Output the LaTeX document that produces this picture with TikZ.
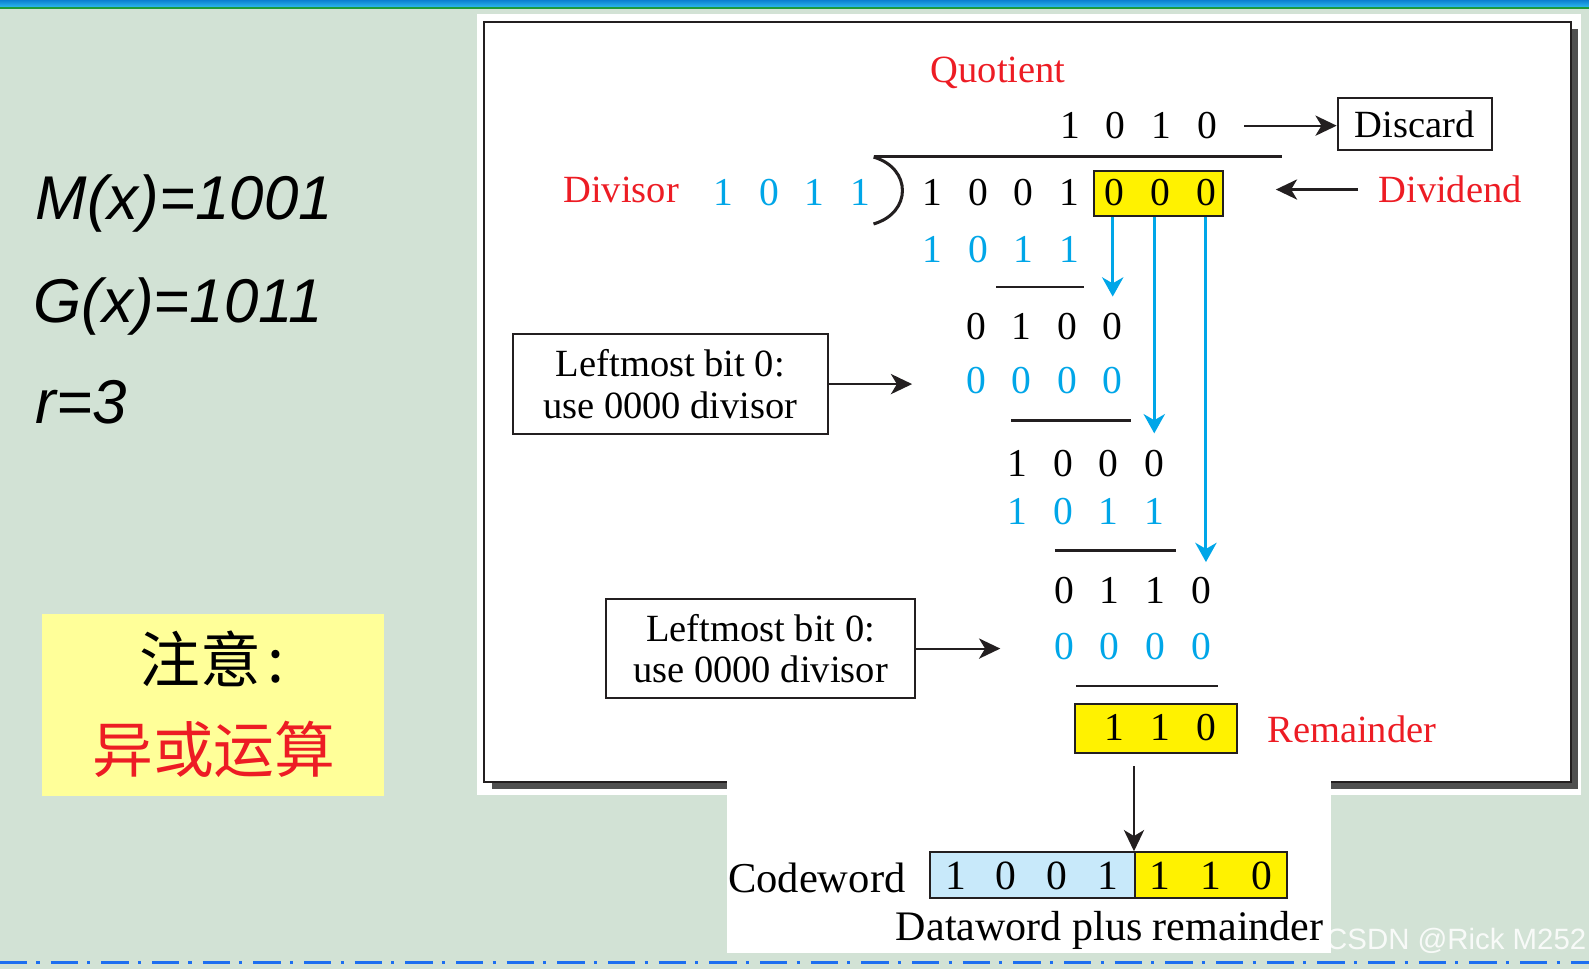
\documentclass[tikz,border=0pt]{standalone}
\usepackage{fontspec}
\setmainfont{Liberation Serif}
\newfontfamily\cjkfont{Noto Sans CJK SC}
\newfontfamily\handfont{Liberation Sans}
\usetikzlibrary{arrows.meta}

\begin{document}
\begin{tikzpicture}[x=1pt,y=-1pt,every node/.style={font=\fontsize{38}{41}\selectfont,align=center,inner sep=0},>={Stealth[length=21pt,width=20pt,inset=6pt]},
  bitnode/.style={font=\fontsize{39}{40}\selectfont},
  bluebit/.style={bitnode,text=cyanbit},
  redtag/.style={text=tagred,anchor=base},
  framebox/.style={draw=boxline,line width=2pt},
  rulebar/.style={draw=boxline,line width=2.5pt},
  blackarrow/.style={->,draw=boxline,line width=2pt},
  bluearrow/.style={-{Stealth[length=19pt,width=21pt,inset=6pt]},draw=cyanbit,line width=3pt}]
\path[use as bounding box] (0,0) rectangle (1568,956);
\definecolor{bg}{HTML}{D2E2D5}
\definecolor{cyanbit}{HTML}{00A6E8}
\definecolor{tagred}{HTML}{ED1C24}
\definecolor{padyellow}{HTML}{FFF200}
\definecolor{cwblue}{HTML}{C8E9FA}
\definecolor{notefill}{HTML}{FFFF99}
\definecolor{boxline}{HTML}{231F20}
\definecolor{shadowgray}{HTML}{505050}
\definecolor{dashblue}{HTML}{1D6FF0}
\definecolor{bartop}{HTML}{0A7FD0}
\definecolor{barbottom}{HTML}{2CB8EE}
\definecolor{barline}{HTML}{1E9A3C}
% slide background
\fill[bg] (0,0) rectangle (1568,956);
\shade[top color=bartop,bottom color=barbottom] (0,0) rectangle (1568,7);
\fill[barline] (0,7) rectangle (1568,8.5);
\draw[dashblue,line width=3pt,dash pattern=on 27pt off 9pt on 3pt off 11pt] (0,950) -- (1568,950);
% white panel and framed figure
\fill[white] (471,14) rectangle (1560,784);
\fill[shadowgray] (485,29) rectangle (1557,779);
\draw[framebox,fill=white] (478,22) rectangle (1550,772);
\fill[white] (717,770) rectangle (1313,940);
% left column
\node[anchor=base west,font=\handfont\itshape\fontsize{61}{64}\selectfont] (mx) at (35,217) {M(x)=1001};
\node[anchor=base west,font=\handfont\itshape\fontsize{61}{64}\selectfont] (gx) at (33,318) {G(x)=1011};
\node[anchor=base west,font=\handfont\itshape\fontsize{61}{64}\selectfont] (rr) at (35,418) {r=3};
\node[fill=notefill,minimum width=338pt,minimum height=179pt] (warn) at (210,695.5) {};
\node[font=\cjkfont\fontsize{60}{60}\selectfont] (zy) at (209,650) {注意\hspace{6pt}:};
\node[font=\cjkfont\fontsize{60}{60}\selectfont,text=tagred] (xor) at (211,739) {异或运算};
% quotient
\node[redtag] (quot) at (985,81) {Quotient};
\foreach \d [count=\i] in {1,0,1,0} \node[bitnode] (q\i) at (1011+45*\i,124) {\d};
\node[framebox,minimum width=152pt,minimum height=51pt] (discard) at (1396,122.5) {Discard};
\draw[blackarrow,shorten <=27pt] (q4.east) -- (q4.east -| discard.west);
% divisor and dividend
\draw[line width=3pt,draw=boxline] (862,154) -- (1265,154);
\draw[line width=3pt,draw=boxline] (862,155) .. controls (900,166) and (900,210) .. (862,221);
\node[redtag] (divisor) at (613,200) {Divisor};
\foreach \d [count=\i] in {1,0,1,1} \node[bluebit] (dv\i) at (669+45*\i,190) {\d};
\node[framebox,fill=padyellow,minimum width=127pt,minimum height=44pt] (pad) at (1143.5,191) {};
\foreach \d [count=\i] in {1,0,0,1,0,0,0} \node[bitnode] (dd\i) at (875+45*\i,190) {\d};
\node[redtag] (dividend) at (1431,200) {Dividend};
\draw[blackarrow,shorten <=20pt,shorten >=51pt] (dividend.west) -- (dividend.west -| pad.east);
% XOR steps
\foreach \d [count=\i] in {1,0,1,1} \node[bluebit] (sa\i) at (875+45*\i,246) {\d};
\draw[rulebar] (983,283) -- (1070,283);
\foreach \d [count=\i] in {0,1,0,0} \node[bitnode] (ra\i) at (918+45*\i,322) {\d};
\foreach \d [count=\i] in {0,0,0,0} \node[bluebit] (sb\i) at (918+45*\i,376) {\d};
\draw[rulebar] (998,415) -- (1116,415);
\foreach \d [count=\i] in {1,0,0,0} \node[bitnode] (rb\i) at (959+45*\i,457) {\d};
\foreach \d [count=\i] in {1,0,1,1} \node[bluebit] (sc\i) at (959+45*\i,505) {\d};
\draw[rulebar] (1041,543) -- (1160,543);
\foreach \d [count=\i] in {0,1,1,0} \node[bitnode] (rc\i) at (1005+45*\i,583) {\d};
\foreach \d [count=\i] in {0,0,0,0} \node[bluebit] (sd\i) at (1005+45*\i,638) {\d};
\draw[rulebar] (1062,677) -- (1202,677);
\draw[bluearrow,shorten >=16pt] (ra4 |- pad.south) -- (ra4.north);
\draw[bluearrow,shorten >=16pt] (rb4 |- pad.south) -- (rb4.north);
\draw[bluearrow,shorten >=15pt] (dd7 |- pad.south) -- (dd7 |- rc4.north);
% notes on zero divisor
\node[framebox,minimum width=311pt,minimum height=98pt] (zero1) at (661.5,379) {Leftmost bit 0:\\use 0000 divisor};
\draw[blackarrow,shorten >=53pt] (zero1.east) -- (zero1.east -| sb1.west);
\node[framebox,minimum width=305pt,minimum height=98pt] (zero2) at (750.5,640) {Leftmost bit 0:\\use 0000 divisor};
\draw[blackarrow,shorten >=53pt] (zero2.east) -- (zero2.east -| sd1.west);
% remainder
\node[framebox,fill=padyellow,minimum width=160pt,minimum height=48pt] (rem) at (1141,719) {};
\foreach \d [count=\i] in {1,1,0} \node[bitnode] (rm\i) at (1055+45*\i,718) {\d};
\node[redtag] (remlbl) at (1334,733) {Remainder};
% codeword
\node[framebox,fill=cwblue,minimum width=202pt,minimum height=45pt] (cwdata) at (1019,863.5) {};
\node[framebox,fill=padyellow,minimum width=150pt,minimum height=45pt] (cwrem) at (1195,863.5) {};
\foreach \d [count=\i] in {1,0,0,1} \node[bitnode,font=\fontsize{41}{42}\selectfont] (cw\i) at (893+50*\i,864) {\d};
\foreach \d [count=\i] in {1,1,0} \node[bitnode,font=\fontsize{41}{42}\selectfont] (cr\i) at (1095+50*\i,864) {\d};
\draw[blackarrow,shorten <=12pt] (rem.south -| cwrem.north west) -- (cwrem.north west);
\node[anchor=base,font=\fontsize{42}{44}\selectfont] (cwlbl) at (806,881) {Codeword};
\node[anchor=base,font=\fontsize{41.5}{44}\selectfont] (dwlbl) at (1095,928) {Dataword plus remainder};
\node[font=\handfont\fontsize{29}{30}\selectfont,text=white,opacity=0.85] (mark) at (1437,928) {CSDN @Rick M252};
\end{tikzpicture}
\end{document}
